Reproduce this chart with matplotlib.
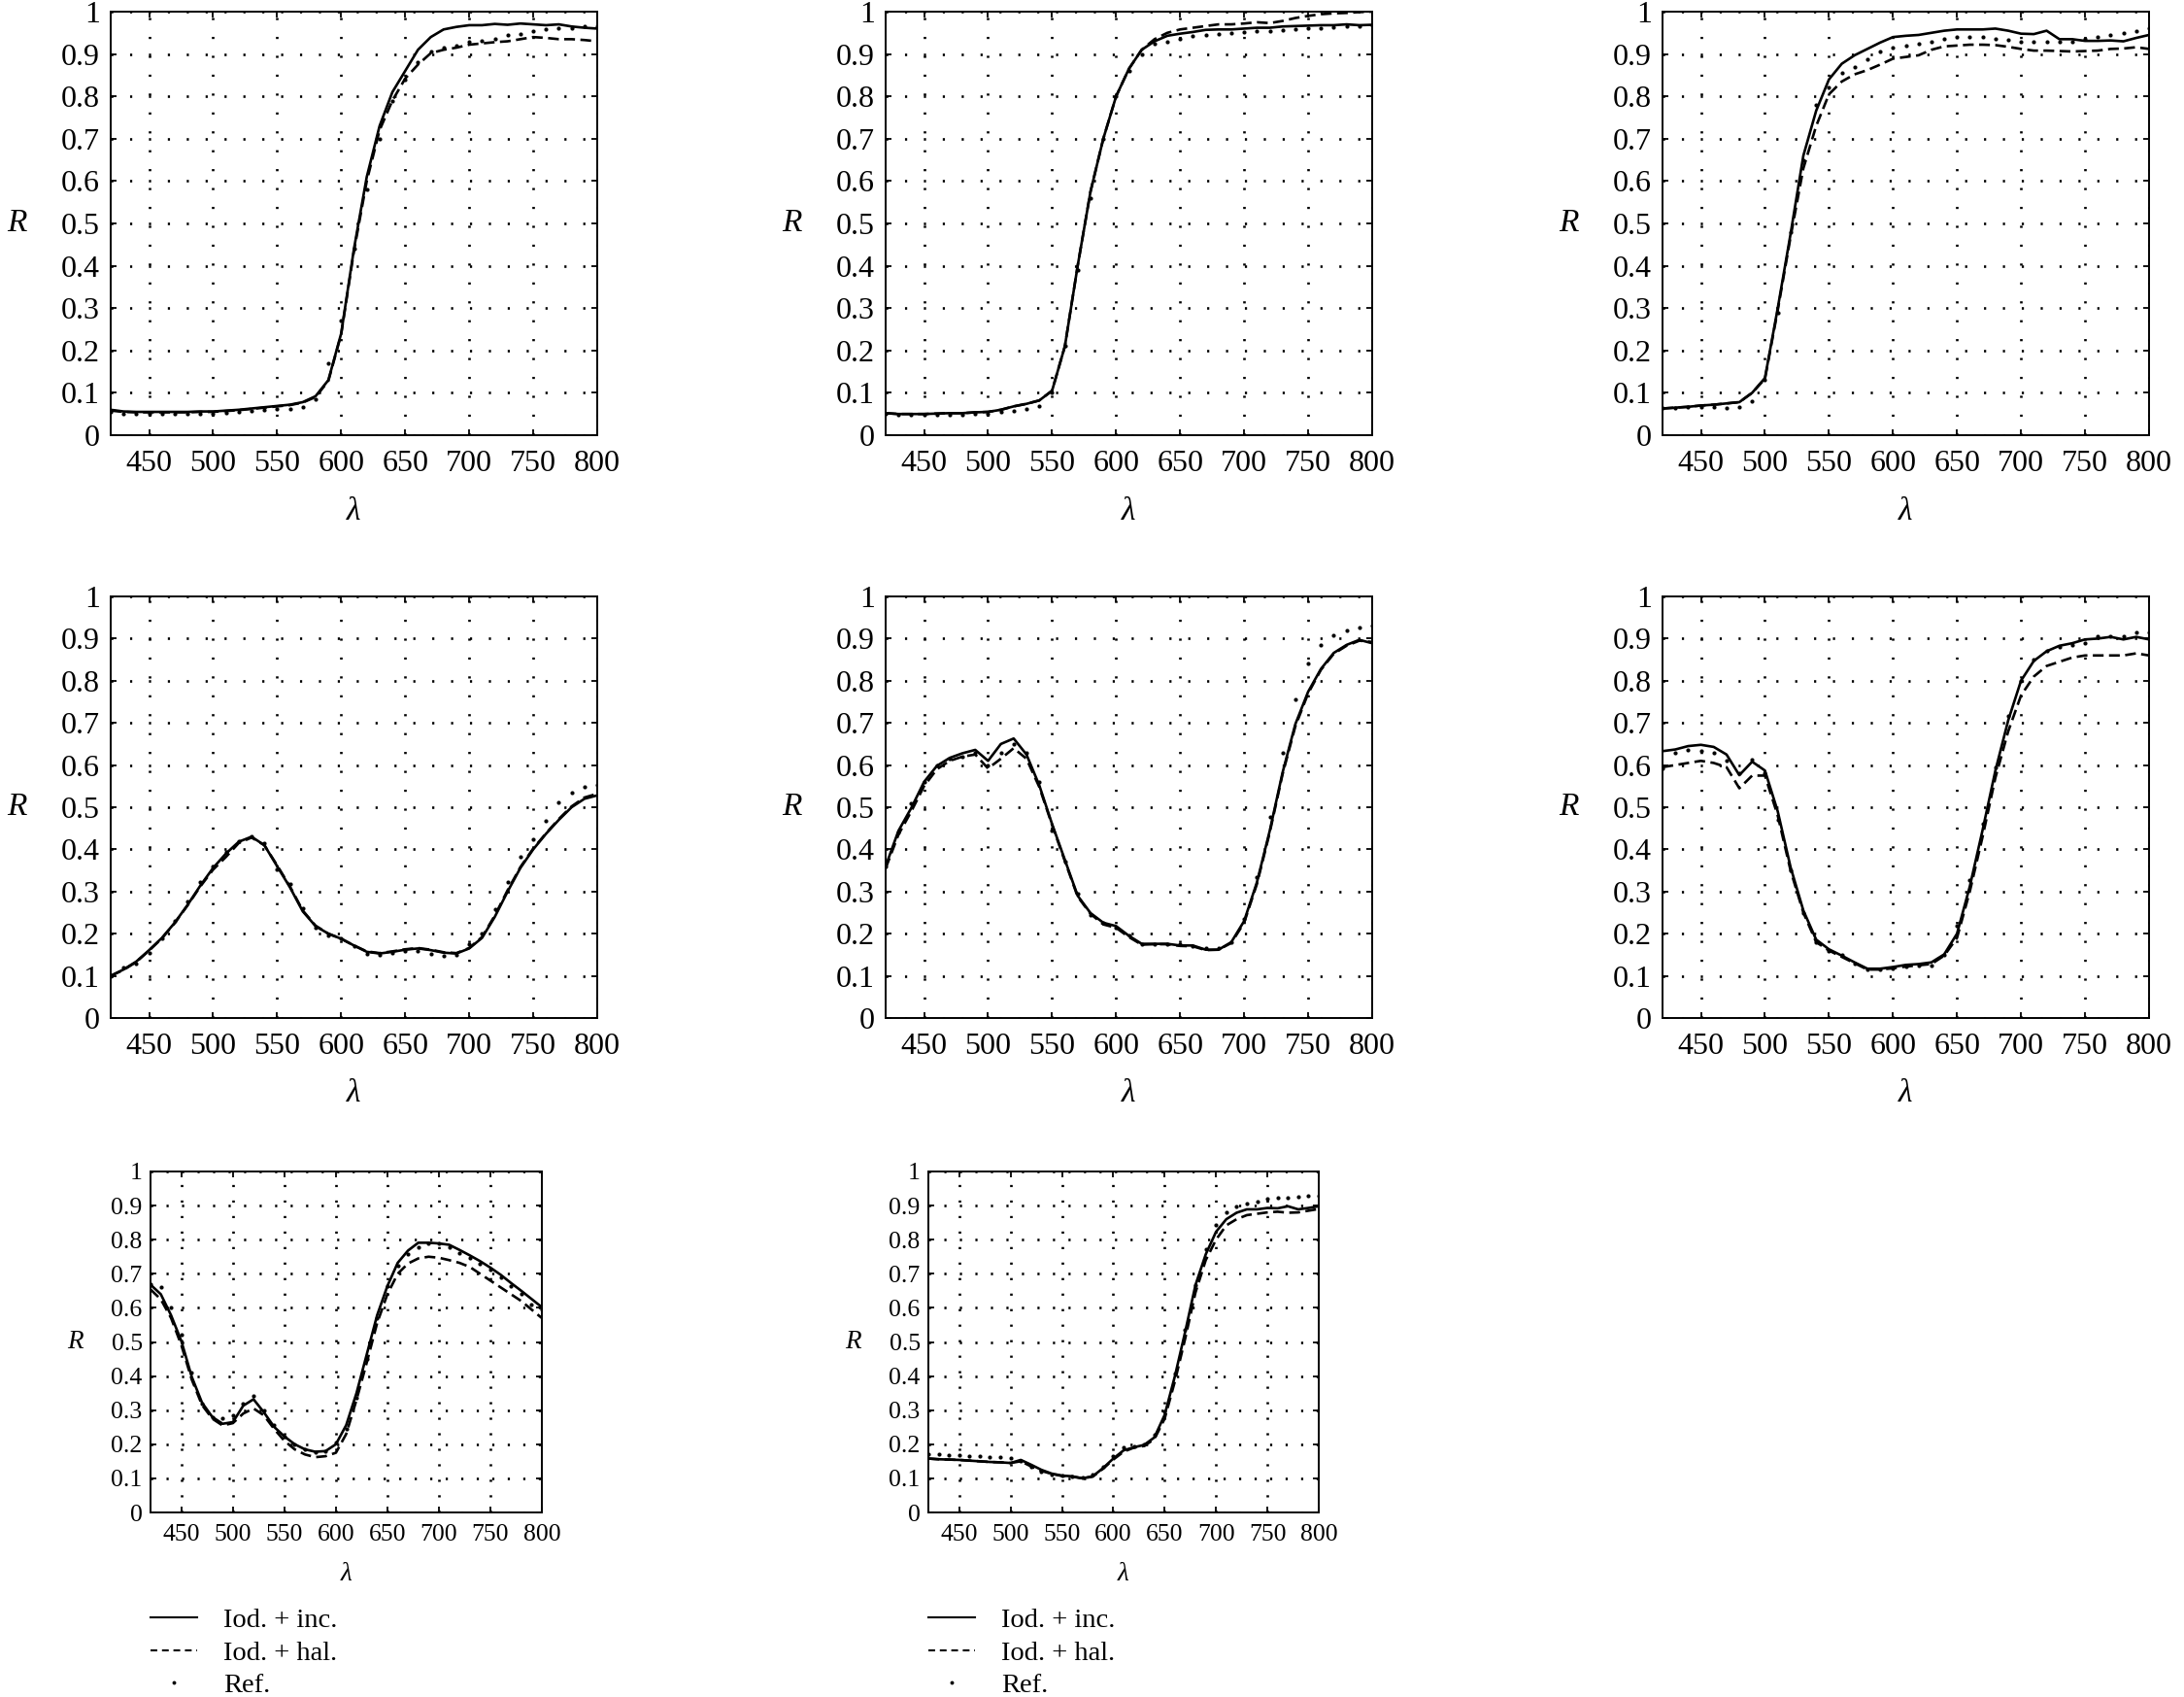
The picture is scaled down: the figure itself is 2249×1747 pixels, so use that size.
import matplotlib
matplotlib.use("Agg")
import matplotlib.pyplot as plt
from matplotlib.lines import Line2D

# Longueurs d'onde (nm), un point tous les 10 nm
WAVELENGTH = [420, 430, 440, 450, 460, 470, 480, 490, 500, 510, 520, 530, 540,
              550, 560, 570, 580, 590, 600, 610, 620, 630, 640, 650, 660, 670,
              680, 690, 700, 710, 720, 730, 740, 750, 760, 770, 780, 790, 800]

X_TICKS = [450, 500, 550, 600, 650, 700, 750, 800]
Y_TICKS = [0, 0.1, 0.2, 0.3, 0.4, 0.5, 0.6, 0.7, 0.8, 0.9, 1]
Y_TICK_LABELS = ["0", "0.1", "0.2", "0.3", "0.4", "0.5", "0.6", "0.7", "0.8", "0.9", "1"]

LEGEND_LABELS = ["Iod. + inc.", "Iod. + hal.", "Ref."]

## Panneau 1
P1_INC = [0.060, 0.056, 0.055, 0.055, 0.055, 0.055, 0.055, 0.056, 0.056, 0.058, 0.060, 0.063, 0.066,
          0.069, 0.072, 0.078, 0.092, 0.130, 0.240, 0.440, 0.610, 0.730, 0.810, 0.860, 0.910, 0.940,
          0.958, 0.964, 0.968, 0.968, 0.971, 0.969, 0.972, 0.970, 0.968, 0.970, 0.965, 0.962, 0.960]
P1_HAL = [0.058, 0.055, 0.054, 0.054, 0.054, 0.054, 0.054, 0.055, 0.055, 0.057, 0.059, 0.062, 0.065,
          0.068, 0.071, 0.077, 0.090, 0.128, 0.238, 0.435, 0.600, 0.720, 0.790, 0.842, 0.875, 0.902,
          0.910, 0.915, 0.922, 0.925, 0.928, 0.930, 0.935, 0.940, 0.938, 0.935, 0.935, 0.933, 0.930]
P1_REF = [0.055, 0.050, 0.050, 0.050, 0.050, 0.050, 0.050, 0.050, 0.050, 0.052, 0.055, 0.058, 0.060,
          0.062, 0.063, 0.066, 0.085, 0.170, 0.270, 0.440, 0.580, 0.700, 0.790, 0.840, 0.880, 0.905,
          0.915, 0.920, 0.930, 0.932, 0.935, 0.945, 0.948, 0.955, 0.958, 0.962, 0.962, 0.965, 0.965]

## Panneau 2
P2_INC = [0.052, 0.050, 0.050, 0.050, 0.051, 0.052, 0.052, 0.054, 0.055, 0.060, 0.068, 0.074, 0.082,
          0.105, 0.210, 0.400, 0.575, 0.700, 0.800, 0.865, 0.910, 0.930, 0.943, 0.948, 0.952, 0.957,
          0.958, 0.958, 0.960, 0.962, 0.962, 0.965, 0.966, 0.967, 0.968, 0.968, 0.970, 0.968, 0.969]
P2_HAL = [0.052, 0.050, 0.050, 0.050, 0.051, 0.052, 0.052, 0.054, 0.055, 0.060, 0.068, 0.074, 0.082,
          0.105, 0.210, 0.400, 0.575, 0.700, 0.800, 0.865, 0.910, 0.935, 0.950, 0.958, 0.962, 0.966,
          0.970, 0.970, 0.972, 0.975, 0.973, 0.978, 0.985, 0.990, 0.994, 0.996, 0.997, 0.999, 1.000]
P2_REF = [0.050, 0.048, 0.048, 0.048, 0.048, 0.049, 0.049, 0.050, 0.050, 0.055, 0.058, 0.062, 0.068,
          0.100, 0.210, 0.390, 0.560, 0.700, 0.800, 0.860, 0.900, 0.925, 0.930, 0.935, 0.942, 0.945,
          0.948, 0.950, 0.952, 0.954, 0.955, 0.957, 0.958, 0.960, 0.962, 0.963, 0.965, 0.966, 0.968]

## Panneau 3
P3_INC = [0.063, 0.065, 0.067, 0.070, 0.072, 0.075, 0.078, 0.100, 0.135, 0.300, 0.475, 0.660, 0.766,
          0.840, 0.877, 0.897, 0.912, 0.927, 0.940, 0.943, 0.945, 0.950, 0.955, 0.958, 0.958, 0.958,
          0.960, 0.955, 0.948, 0.947, 0.955, 0.935, 0.935, 0.931, 0.931, 0.932, 0.930, 0.938, 0.945]
P3_HAL = [0.063, 0.065, 0.067, 0.070, 0.072, 0.075, 0.078, 0.100, 0.133, 0.295, 0.468, 0.630, 0.730,
          0.805, 0.835, 0.852, 0.862, 0.875, 0.889, 0.893, 0.897, 0.910, 0.918, 0.920, 0.922, 0.922,
          0.921, 0.917, 0.912, 0.908, 0.908, 0.907, 0.906, 0.907, 0.908, 0.912, 0.913, 0.916, 0.912]
P3_REF = [0.065, 0.065, 0.066, 0.067, 0.066, 0.065, 0.067, 0.080, 0.130, 0.290, 0.480, 0.650, 0.780,
          0.820, 0.855, 0.870, 0.888, 0.905, 0.915, 0.920, 0.925, 0.930, 0.935, 0.940, 0.940, 0.940,
          0.936, 0.934, 0.930, 0.930, 0.930, 0.930, 0.930, 0.935, 0.940, 0.945, 0.950, 0.955, 0.960]

## Panneau 4
P4_INC = [0.100, 0.115, 0.134, 0.161, 0.190, 0.226, 0.268, 0.314, 0.356, 0.390, 0.418, 0.430, 0.410,
          0.360, 0.310, 0.253, 0.218, 0.200, 0.188, 0.172, 0.157, 0.153, 0.157, 0.162, 0.165, 0.161,
          0.155, 0.153, 0.165, 0.190, 0.240, 0.300, 0.356, 0.400, 0.437, 0.470, 0.500, 0.520, 0.528]
P4_HAL = [0.100, 0.114, 0.133, 0.160, 0.189, 0.225, 0.267, 0.312, 0.352, 0.382, 0.415, 0.428, 0.410,
          0.362, 0.312, 0.255, 0.219, 0.200, 0.188, 0.172, 0.158, 0.154, 0.158, 0.163, 0.166, 0.162,
          0.156, 0.154, 0.166, 0.192, 0.243, 0.303, 0.358, 0.402, 0.438, 0.472, 0.502, 0.523, 0.532]
P4_REF = [0.100, 0.120, 0.130, 0.155, 0.190, 0.230, 0.276, 0.323, 0.360, 0.395, 0.420, 0.430, 0.414,
          0.352, 0.318, 0.260, 0.215, 0.195, 0.188, 0.170, 0.153, 0.150, 0.155, 0.160, 0.160, 0.153,
          0.147, 0.150, 0.175, 0.200, 0.257, 0.323, 0.383, 0.425, 0.467, 0.512, 0.535, 0.548, 0.552]

## Panneau 5
P5_INC = [0.360, 0.444, 0.498, 0.560, 0.598, 0.617, 0.628, 0.636, 0.610, 0.650, 0.663, 0.625, 0.552,
          0.460, 0.375, 0.290, 0.249, 0.226, 0.218, 0.195, 0.176, 0.176, 0.176, 0.172, 0.172, 0.162,
          0.162, 0.180, 0.230, 0.322, 0.444, 0.582, 0.697, 0.774, 0.828, 0.866, 0.885, 0.897, 0.889]
P5_HAL = [0.355, 0.435, 0.490, 0.550, 0.590, 0.610, 0.620, 0.625, 0.592, 0.615, 0.640, 0.615, 0.548,
          0.458, 0.372, 0.288, 0.247, 0.222, 0.214, 0.192, 0.174, 0.175, 0.175, 0.171, 0.170, 0.161,
          0.162, 0.178, 0.226, 0.318, 0.440, 0.578, 0.692, 0.770, 0.826, 0.864, 0.883, 0.895, 0.892]
P5_REF = [0.360, 0.440, 0.510, 0.560, 0.600, 0.615, 0.620, 0.630, 0.600, 0.630, 0.650, 0.630, 0.560,
          0.445, 0.370, 0.295, 0.245, 0.225, 0.215, 0.195, 0.175, 0.175, 0.175, 0.175, 0.170, 0.165,
          0.165, 0.180, 0.234, 0.335, 0.477, 0.630, 0.755, 0.840, 0.885, 0.908, 0.920, 0.926, 0.931]

## Panneau 6
P6_INC = [0.633, 0.637, 0.645, 0.648, 0.643, 0.625, 0.576, 0.608, 0.587, 0.490, 0.358, 0.255, 0.186,
          0.163, 0.148, 0.132, 0.117, 0.117, 0.121, 0.126, 0.128, 0.132, 0.151, 0.200, 0.312, 0.446,
          0.587, 0.706, 0.800, 0.847, 0.870, 0.883, 0.889, 0.898, 0.900, 0.904, 0.898, 0.904, 0.898]
P6_HAL = [0.595, 0.600, 0.605, 0.610, 0.605, 0.595, 0.545, 0.575, 0.575, 0.480, 0.350, 0.250, 0.180,
          0.160, 0.145, 0.130, 0.115, 0.115, 0.118, 0.122, 0.125, 0.128, 0.148, 0.190, 0.300, 0.430,
          0.570, 0.680, 0.765, 0.810, 0.835, 0.845, 0.855, 0.860, 0.860, 0.860, 0.860, 0.865, 0.860]
P6_REF = [0.593, 0.630, 0.635, 0.633, 0.630, 0.610, 0.580, 0.614, 0.580, 0.469, 0.350, 0.250, 0.180,
          0.160, 0.150, 0.130, 0.115, 0.115, 0.118, 0.122, 0.125, 0.125, 0.150, 0.220, 0.327, 0.461,
          0.595, 0.717, 0.800, 0.850, 0.870, 0.880, 0.885, 0.890, 0.906, 0.905, 0.905, 0.914, 0.914]

## Panneau 7
P7_INC = [0.668, 0.640, 0.578, 0.502, 0.398, 0.322, 0.280, 0.260, 0.265, 0.313, 0.332, 0.294, 0.251,
          0.223, 0.200, 0.185, 0.178, 0.180, 0.200, 0.256, 0.350, 0.464, 0.578, 0.664, 0.732, 0.768,
          0.791, 0.791, 0.789, 0.785, 0.770, 0.754, 0.737, 0.718, 0.697, 0.673, 0.650, 0.626, 0.602]
P7_HAL = [0.654, 0.625, 0.570, 0.490, 0.390, 0.315, 0.275, 0.255, 0.262, 0.290, 0.305, 0.285, 0.245,
          0.210, 0.185, 0.170, 0.162, 0.165, 0.175, 0.230, 0.330, 0.440, 0.555, 0.640, 0.700, 0.730,
          0.745, 0.750, 0.747, 0.740, 0.732, 0.720, 0.700, 0.680, 0.660, 0.640, 0.620, 0.595, 0.570]
P7_REF = [0.670, 0.662, 0.602, 0.520, 0.410, 0.320, 0.280, 0.277, 0.284, 0.320, 0.343, 0.300, 0.256,
          0.223, 0.200, 0.185, 0.178, 0.180, 0.204, 0.246, 0.336, 0.450, 0.569, 0.664, 0.725, 0.758,
          0.779, 0.789, 0.789, 0.777, 0.762, 0.747, 0.730, 0.713, 0.690, 0.665, 0.640, 0.611, 0.595]

## Panneau 8
P8_INC = [0.158, 0.156, 0.155, 0.154, 0.152, 0.150, 0.148, 0.147, 0.145, 0.154, 0.140, 0.125, 0.114,
          0.108, 0.106, 0.100, 0.106, 0.130, 0.158, 0.182, 0.191, 0.198, 0.220, 0.286, 0.400, 0.530,
          0.667, 0.757, 0.823, 0.860, 0.879, 0.889, 0.889, 0.893, 0.892, 0.898, 0.889, 0.893, 0.898]
P8_HAL = [0.158, 0.156, 0.155, 0.154, 0.152, 0.150, 0.148, 0.147, 0.145, 0.150, 0.135, 0.122, 0.113,
          0.107, 0.105, 0.100, 0.105, 0.128, 0.155, 0.178, 0.190, 0.195, 0.215, 0.275, 0.385, 0.510,
          0.645, 0.740, 0.800, 0.842, 0.860, 0.872, 0.876, 0.880, 0.882, 0.879, 0.880, 0.885, 0.890]
P8_REF = [0.172, 0.171, 0.168, 0.167, 0.166, 0.164, 0.163, 0.162, 0.160, 0.150, 0.135, 0.120, 0.110,
          0.107, 0.106, 0.103, 0.110, 0.133, 0.165, 0.190, 0.195, 0.200, 0.227, 0.295, 0.406, 0.537,
          0.667, 0.773, 0.842, 0.879, 0.898, 0.905, 0.912, 0.919, 0.922, 0.924, 0.926, 0.928, 0.930]

PANELS = [
    (P1_INC, P1_HAL, P1_REF), (P2_INC, P2_HAL, P2_REF), (P3_INC, P3_HAL, P3_REF),
    (P4_INC, P4_HAL, P4_REF), (P5_INC, P5_HAL, P5_REF), (P6_INC, P6_HAL, P6_REF),
    (P7_INC, P7_HAL, P7_REF), (P8_INC, P8_HAL, P8_REF),
]

FIG_W, FIG_H = 2249, 1747

# Position des axes en pixels (gauche, haut, droite, bas)
BOXES = [
    (114, 12, 615, 448), (912, 12, 1413, 448), (1712, 12, 2213, 448),
    (114, 614, 615, 1048), (912, 614, 1413, 1048), (1712, 614, 2213, 1048),
    (155, 1206, 558, 1557), (956, 1206, 1358, 1557),
]

SERIF = ["Liberation Serif", "DejaVu Serif"]


def configure_matplotlib():
    plt.rcParams.update({
        "font.family": SERIF,
        "lines.scale_dashes": False,
        "axes.linewidth": 1.4,
        "axes.edgecolor": "black",
    })


def draw_panel(fig, box, data, small=False, legend=False):
    left, top, right, bottom = box
    ax = fig.add_axes([left / FIG_W, 1 - bottom / FIG_H,
                       (right - left) / FIG_W, (bottom - top) / FIG_H])
    fs = 18.5 if small else 23
    period = 11.5 if small else 14.0
    inc, hal, ref = data

    ax.plot(WAVELENGTH, inc, color="black", lw=1.9, solid_joinstyle="round")
    ax.plot(WAVELENGTH, hal, color="black", lw=1.9, linestyle=(0, (8, 4)))
    ax.plot(WAVELENGTH, ref, color="black", linestyle="none", marker="o",
            markersize=3.0, markeredgewidth=0)

    ax.set_xlim(420, 800)
    ax.set_ylim(0, 1)
    ax.set_xticks(X_TICKS)
    ax.set_yticks(Y_TICKS)
    ax.set_yticklabels(Y_TICK_LABELS)

    grid_style = (0, (1.6, period - 1.6))
    ax.xaxis.grid(True, color="black", lw=1.9, linestyle=grid_style)
    ax.yaxis.grid(True, color="black", lw=1.9, linestyle=grid_style)

    ax.tick_params(axis="y", direction="in", length=4.5, width=1.3, right=True,
                   labelsize=fs, pad=8 if not small else 6)
    ax.tick_params(axis="x", direction="in", length=4.5, width=1.3, top=True,
                   labelsize=fs, pad=11 if not small else 9)

    ax.set_xlabel("λ", fontsize=fs + 1, fontstyle="italic", va="center")
    ax.xaxis.set_label_coords(0.5, -0.18)
    ax.set_ylabel("R", fontsize=fs + 1, fontstyle="italic", rotation=0,
                  ha="center", va="center")
    ax.yaxis.set_label_coords(-0.193, 0.5)

    if legend:
        handles = [
            Line2D([], [], color="black", lw=1.5),
            Line2D([], [], color="black", lw=1.5, linestyle=(0, (5, 3.5))),
            Line2D([], [], color="black", linestyle="none", marker="o",
                   markersize=2.8, markeredgewidth=0),
        ]
        ax.legend(handles, LEGEND_LABELS, loc="upper left", bbox_to_anchor=(0, -0.28),
                  frameon=False, borderpad=0, borderaxespad=0, handlelength=1.7,
                  handletextpad=0.95, labelspacing=0.27, fontsize=20.5)
    return ax


def plot_everything(output_path="out.png"):
    configure_matplotlib()
    fig = plt.figure(figsize=(FIG_W / 100, FIG_H / 100), dpi=100)
    for i, (box, data) in enumerate(zip(BOXES, PANELS)):
        small = i >= 6
        draw_panel(fig, box, data, small=small, legend=small)
    fig.savefig(output_path, dpi=100, facecolor="white")
    plt.close(fig)


if __name__ == "__main__":
    plot_everything()
